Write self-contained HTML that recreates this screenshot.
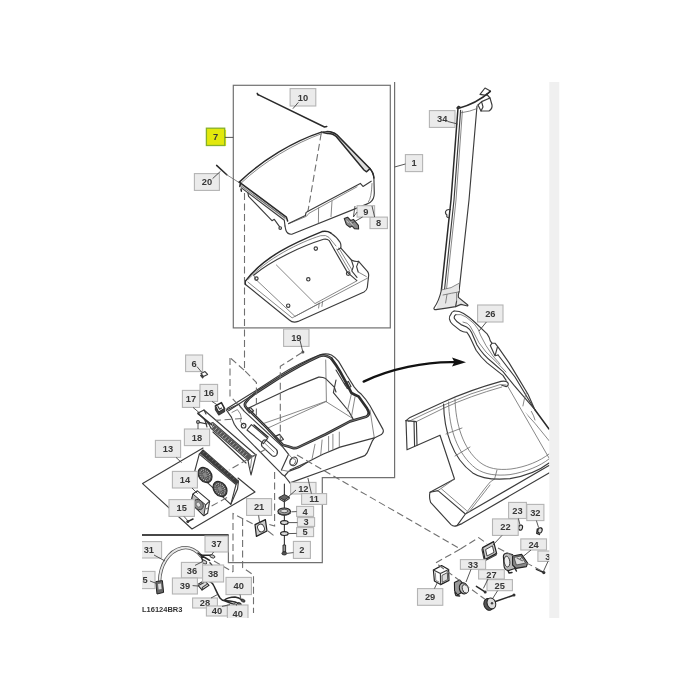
<!DOCTYPE html>
<html lang="en"><head><meta charset="utf-8"><title>Parts diagram L16124BR3</title>
<style>
html,body{margin:0;padding:0;background:#fff;}
body{width:700px;height:700px;overflow:hidden;position:relative;font-family:"Liberation Sans",sans-serif;}
svg{position:absolute;left:0;top:0;display:block}
.l{fill:none;stroke:#3c3c3c;stroke-width:1.15;stroke-linecap:round;stroke-linejoin:round}
.t{fill:none;stroke:#6a6a6a;stroke-width:.8;stroke-linecap:round;stroke-linejoin:round}
.k{fill:none;stroke:#2a2a2a;stroke-width:1.5;stroke-linecap:round;stroke-linejoin:round}
.g{fill:none;stroke:#2e2e2e;stroke-width:2.7;stroke-linecap:round;stroke-linejoin:round}
.d{fill:none;stroke:#707070;stroke-width:1.1;stroke-dasharray:7 3.5}
.b{fill:none;stroke:#707070;stroke-width:1.2}
.w{fill:#fff}
.lb{fill:#ebebeb;stroke:#b4b4b4;stroke-width:1.1}
.ly{fill:#e2e80c;stroke:#86b02a;stroke-width:1.3}
.ld{stroke:#444;stroke-width:.9;fill:none}
text{font-family:"Liberation Sans",sans-serif;font-weight:bold;font-size:9.3px;fill:#383838;text-anchor:middle}
</style></head>
<body>
<svg width="700" height="700" viewBox="0 0 700 700">
<defs><clipPath id="crop"><rect x="142" y="82" width="407.3" height="536"/></clipPath></defs>
<rect x="549.3" y="82" width="10" height="536" fill="#f0f0f0"/>
<g clip-path="url(#crop)" style="filter:blur(.35px)">
<!-- ===== frames ===== -->
<rect class="b" x="233.3" y="85.3" width="157" height="242.6"/>
<path class="b" d="M142,535 H228.4 V562.6 H322.3 V477.6 H394.6 V80"/>
<path d="M142,535 H228.400" stroke="#222" stroke-width="1.6" fill="none"/>

<!-- ===== rod 10 & pin 20 ===== -->
<path class="k" d="M257.6,94.3 L324.5,127 l2.3,-.6" stroke-width="1.250" stroke="#3a3a3a"/>
<path class="k" d="M257.2,93.4 l1,1.6" stroke-width="2.2"/>
<path class="k" d="M216.6,165.4 L226.8,174.8" stroke-width="2"/>
<path class="t" d="M226.8,174.8 L239,182.5"/>

<!-- ===== lid (7) ===== -->
<g id="lid">
<path class="w" d="M239.3,182.1 C262,160 294,141 321.4,132.1 L327,131.7 L337,135 L370,168.6 L373.8,177 L374.3,194.3 L370,203 L291.4,234.3 L287,232 L285,226 L284.3,220 L241.4,187.9 Z"/>
<path class="k" d="M239.3,182.1 C262,160 294,141 321.4,132.1" stroke-width="1.200"/>
<path class="t" d="M241,183.2 C263,162 295,143 321.8,133.6"/>
<path class="l" d="M321.4,132.1 L327,131.5 Q333,131.6 337,135 L369.6,168.2 Q373.5,172.5 373.9,178 L374.3,193 Q374.3,199.5 370,202.6 Q367,204.4 363,205.6 L291.8,234.2 Q287.3,234.6 285.8,230 L285,226"/>
<path d="M327.5,133.4 Q333,133.2 336.2,136.6 L364,170 L366.6,171.8 L370,168.6 L337,135 Q333,131.6 327,131.500Z" fill="#dcdcdc"/>
<path class="k" d="M323,132.600 L327.500,133.400 Q333,133.200 336.200,136.600 L364,170 L366.600,171.800 L370,168.600" stroke-width="1.200"/>
<path class="k" d="M327,131.500 Q333,131.600 337,135 L369.600,168.200 Q373.500,172.500 373.900,178" stroke-width="1.300"/>
<path class="l" d="M371.2,181.2 L363,186.4 L360.3,183.4 L308,211.2"/>
<path class="t" d="M357,186.8 L308.8,213.4 L306.6,216.2 L288.6,223.8"/>
<path class="t" d="M372,183.5 Q371.5,198 368.5,201.8"/>
<path class="l" d="M308,211.2 L306,212.6 L305.4,215.6 L288.6,223.6"/>
<path class="t" d="M332,201.2 L331,216.6 M318.6,208 L318.4,223"/>
<path d="M239.5,183 L286.4,217.1 L284.3,220 L241.4,187.9Z" fill="#ddd"/>
<path class="k" d="M239.3,182.1 L286.4,217.1 L287.6,221" stroke-width="1.300"/>
<path class="l" d="M241.4,187.9 L284.3,220.2 L285,226"/>
<path class="t" d="M253.6,195 L284.6,217.6"/>
<path class="t" d="M240.600,185.400 L285.400,218.600"/>
<path class="k" d="M240.4,183.5 l-.6,3 M241,189.2 l.4,2" stroke-width="1.8"/>
<path class="l" d="M247.9,192.9 L248.6,196.4 L268.6,217.1 L272,220.7 L274.3,219.3 L279.5,226.6"/>
<circle class="l" cx="280.2" cy="228" r="1.3"/>
<!-- clip 8/9 -->
<path d="M344.200,218.400 L347.600,217.200 L350.600,220.400 L353.400,219.400 L358.400,225.400 L358.600,229 L354.400,228.600 L352,226 L350,227.200 L346.400,224.600Z" fill="#8a8a8a" stroke="#2a2a2a" stroke-width="1.100" stroke-linejoin="round"/>
<path d="M349.600,221.600 l3.600,4 M346.600,220.600 l2,2.400" stroke="#ddd" stroke-width=".8" fill="none"/>
</g>

<!-- ===== tray ===== -->
<g id="tray">
<path class="w" d="M245,280.7 C264.3,255.6 294.9,242.5 323.6,231.4 L330.7,232.9 L340,242.1 L340.7,247.9 L351.4,260 L358.6,261.4 L368.6,273.6 L367.1,287.9 L365,291.4 L295,322.1 L289.3,319.3 L245,283.6Z"/>
<path class="k" d="M245,281.600 C264.300,256 294.900,242.600 322,231.600 Q327,230.600 330.700,232.900" stroke-width="1.400"/>
<path class="l" d="M330.7,232.9 Q337,237 340,242.1 Q341.4,245 340.7,247.9 L351.4,260 Q355,262 358.6,261.4 L367.6,271.6 Q369,273.6 368.6,276 L367.3,287.5 Q366.8,290.4 364,291.9 L298,321.4 Q293,323.4 289.3,320 L245.2,284.2 Q244.2,282.6 245,281"/>
<path class="t" d="M247.9,279.6 C266,259 300,242 320.7,235.7 Q326,234.6 329,237.4 L336,246"/>
<path class="l" d="M253.6,275.2 C272,259.6 304,245.4 323.6,239.3 Q327,238.6 329.3,240.7 L334.5,250"/>
<path class="t" d="M247.9,282.1 L292.1,317.9 L367.4,278.2"/>
<path class="t" d="M253.6,275.2 L256.4,280 L295,316.4 L318.8,303.6"/>
<path class="t" d="M276.4,265 L315,303.6 L357,280.8"/>
<path class="t" d="M319.3,303 L318.6,308 M322.6,301.4 L321.9,306.4"/>
<path class="l" d="M334.5,250 L347.4,272.4 L356.6,280.4"/>
<path class="t" d="M336.6,249 L349.6,271 M338.8,248 L351.8,269.6"/>
<path class="l" d="M340.7,247.9 L338,249.6 M351.4,260 L353.4,266.4 L351.8,271 L357,277.4 M358.6,261.4 L356.6,266.6 L358.2,272"/>
<path class="t" d="M358.2,272 L366.4,276.6"/>
<circle class="l" cx="256.4" cy="278.6" r="1.7"/><circle class="l" cx="315.8" cy="248.6" r="1.7"/>
<circle class="l" cx="308.3" cy="279.3" r="1.7"/><circle class="l" cx="288.2" cy="305.7" r="1.7"/>
<circle class="l" cx="348.2" cy="273.6" r="1.8"/>
<path class="k" d="M245,281 l.4,3.4" stroke-width="1.8"/>
</g>

<!-- ===== console bin ===== -->
<g id="console">
<!-- white silhouette -->
<path class="w" d="M226.4,410 L227.100,408.600 L255.700,390.700 L280,375 L300,362.600 L321.4,354.3 L331.4,355 L338.6,361.4 L347.1,375.7 L354.3,387.1 L361.4,394.3 L370,405.7 L378.6,421.4 L383.6,430.7 L381.4,434.6 L374.3,437.9 L372.1,441.4 L367.1,452.9 L362.9,456.4 L325.7,470 L290,482.9 L284,476.6 L280,472.1 L240,431.4 L234.3,424.3 L231.4,417.1Z"/>
<!-- outer shell -->
<path class="l" d="M227.100,408.600 L255.700,390.700 L280,375 Q300,362.600 320,354.800 Q326,352.800 331.4,355 Q335.6,357.4 338.6,361.4 L347.1,375.7 L354.3,387.1 Q357.6,391.6 361.4,394.3 Q366,399 370,405.7 L378.6,421.4 L383,429.4 Q384.2,432.4 381.4,434.6 L374.3,437.9"/>
<path class="l" d="M374.3,437.9 L340,447.1 L322.9,454.3 L308.6,461.4 L290,470"/>
<path class="l" d="M374.3,437.9 L372.1,441.4 L367.1,452.9 Q365.6,455.6 362.9,456.4 L325.7,470 L290,482.9"/>
<path class="t" d="M339.3,432.1 V447.1 M332.9,434.3 V449.3 M328.6,436.4 V451.4 M322.1,440 L320.7,455 M315,444.3 L312.1,458.6"/>
<path class="t" d="M370,410 L374.3,437.9"/>
<!-- interior -->
<path class="l" d="M248.600,408 L290,388.6 L318.6,377.1 Q322.6,376.8 325.7,378.6 L334.3,387.1 L336,392"/>
<path class="t" d="M325.7,360 L326.4,401.4 M262,424 L290,414.3 L325.7,401.4 L352.9,418.6"/>
<path class="t" d="M326.4,401.4 L268,428"/>
<path class="l" d="M336,380 L333.4,392.6 L348.6,411 L352.9,418.6"/>
<path class="t" d="M351.4,394 L347.4,411 M355,397 L351.6,416"/>
<path class="l" d="M336,370 L345.6,386 M344.6,383.6 L348.4,381.4 L351,386.4 L347.4,388.6Z"/>
<!-- gasket -->
<path class="g" d="M331.400,358.600 Q329,356.400 325.700,355.700 Q322.400,355 318.600,356.400 Q300,364.800 280,377.400 L255.700,393 Q249,397.600 245.600,402.600 Q244,405 246,407.400 L251,412 L266.400,427.400 L282.900,445 Q289,446.400 292.900,447.900 Q295,448.800 298.600,447.100 L325.700,434.300 L350,421.400 L366,416.800 Q368,416 368.600,414.300"/>
<path class="g" d="M331.400,358.600 Q336,364.600 340,371.400 L347.100,384.300 L351.400,392.900 Q354.600,395 358.600,396.400 L367.100,408.600 Q369.400,412.400 368.600,414.300" stroke-width="1.900"/>
<path d="M331.400,358.600 Q329,356.400 325.700,355.700 Q322.400,355 318.600,356.400 Q300,364.800 280,377.400 L255.700,393 Q249,397.600 245.600,402.600 Q244,405 246,407.400 L251,412 L266.400,427.400 L282.900,445 Q289,446.400 292.900,447.900 Q295,448.800 298.600,447.100 L325.700,434.300 L350,421.400 L366,416.800 Q368,416 368.600,414.300" fill="none" stroke="#999" stroke-width=".6"/>
<!-- front panel -->
<path class="l" d="M226.4,410 L238.6,404.3 L244.3,411.4 L282.9,447.1 L288.6,454.3 L281.4,470"/>
<path class="l" d="M226.4,410 L231.4,417.1 Q233,421 234.3,424.3 Q236.6,428.4 240,431.4 L280,472.1 Q282,474.6 284.6,476 L290,482.9"/>
<path class="l" d="M228.600,410.700 L255.700,392.900"/>
<path class="t" d="M232,412.4 L237.4,409.6 L240.4,414 Q242,418 240.4,421.6 L244,426"/>
<path class="l" d="M284.6,476 L288.6,471.4 L300,467.1 L308.6,461.4"/>
<path class="t" d="M281.4,470 L288.6,471.4 M288.6,454.3 L292,458"/>
<circle class="l" cx="243.6" cy="425.7" r="2.3"/>
<ellipse class="l" cx="293.6" cy="461.4" rx="3.6" ry="4.4" transform="rotate(30 293.6 461.4)"/>
<ellipse class="t" cx="292.8" cy="461.8" rx="2.6" ry="3.4" transform="rotate(30 292.8 461.8)"/>
<path class="l" d="M247,430 L251.4,424.6 L267.6,438.4 L263.4,443.6Z"/>
<path class="k" d="M254,425 L268,437"/>
<path class="l" d="M262.6,441.4 Q264,439 266.4,440.4 L276.6,449.6 Q278.4,452.4 276.6,455 Q274.6,457.4 272,455.6 L262,446.4 Q260.6,444 262.6,441.4Z"/>
<path class="t" d="M264.6,443 L274,452"/>
<path class="l" d="M246.4,409.4 L250.6,407.6 L253.6,411 L249.4,413Z M274.6,436.6 L279.6,434.4 L283.4,439.4 L278.6,441.6Z"/>
</g>

<!-- arrow -->
<path d="M363.6,381.6 C390,369 425,361.5 455,362.2" fill="none" stroke="#111" stroke-width="2.3" stroke-linecap="round"/>
<path d="M452,357.4 L466,362.2 L452,366.6 L454.4,362Z" fill="#111"/>

<!-- screw 19 -->
<circle cx="302.9" cy="352.1" r="1.5" fill="#555"/>

<!-- ===== vent 17 / clips ===== -->
<g id="vent">
<path class="w" d="M198,413 L204,410 L256,455 L251,475 L248,460 L211,427Z"/>
<path class="l" d="M198,413 L204,410 L256,455 L251,475 L249,466 L248,460"/>
<path class="k" d="M198,413.600 L212,425" stroke-width="1.600"/>
<path class="l" d="M198,413 L209,424 L213,422.6 L252,456.4 L256,455"/>
<path class="l" d="M213,432 L246,463"/>
<path class="l" d="M209,424 L211,428.4 L248,460.4 L252,456.4"/>
<path d="M213.4,423.4 L251.6,456.6 L248.2,459.8 L211.4,428Z" fill="#555"/>
<path d="M214.5,425.6 l-2.4,2.4 M217,427.8 l-2.4,2.4 M219.5,430 l-2.4,2.4 M222,432.2 l-2.4,2.4 M224.5,434.4 l-2.4,2.4 M227,436.600 l-2.4,2.4 M229.5,438.8 l-2.4,2.4 M232,441 l-2.4,2.4 M234.5,443.2 l-2.4,2.4 M237,445.4 l-2.4,2.4 M239.5,447.6 l-2.4,2.4 M242,449.8 l-2.4,2.4 M244.5,452 l-2.4,2.4 M247,454.2 l-2.4,2.4" stroke="#ddd" stroke-width=".7" fill="none"/>
<path class="t" d="M252,456.4 L250.4,468"/>
<path class="l" d="M204,410 L206,414"/>
<!-- screw 18 -->
<circle class="l" cx="198" cy="422" r="1.4"/>
<path class="l" d="M199.4,422.4 L207,424 M205,420.4 L207,427"/>
<!-- clip 6 -->
<path class="l" d="M201,373.4 L205,371.6 L207.6,374.4 L203.4,376.6Z M203.4,376.6 L202.6,378 L200.6,375.4Z" fill="#bbb"/>
<!-- clip 16 -->
<path class="k" d="M215.4,406 L221.4,402.6 L224.6,408.6 L218.6,412.4Z" fill="#555"/>
<path d="M215.400,406 L215.400,409.600 L218.800,415 L224.600,411.400 L224.600,408.600 L218.600,412.400Z" fill="#444"/>
<path class="l" d="M215.4,406 L215.4,409.6 L218.8,415 L218.6,412.4 M218.8,415 L224.6,411.4 L224.6,408.6 M218,406.6 l1.6,2.6 l2,-1.2"/>
</g>

<!-- ===== fan assy 13/14/15 ===== -->
<g id="fans">
<path class="l" d="M203,448 L142.6,483.6 L192,529 L255,492 L238,478"/>
<path class="w" d="M199.300,454.100 L203,450 L238.500,481.100 L237.500,489 L230.800,504.300 L194.800,470.800Z"/>
<path class="l" d="M199.300,454.100 L203,450 L238.500,481.100 L237.500,489 L230.800,504.300 L194.800,470.800Z"/>
<path class="l" d="M199.300,454.100 L236,484.600 L230.800,504.300 M236,484.600 L238.500,481.100"/>
<path d="M199.900,453.400 L203,450.200 L238.300,481.100 L236,484.200Z" fill="#3c3c3c"/>
<path d="M203,453.400 l1.600,-1.800 M206,456 l1.600,-1.800 M209,458.600 l1.600,-1.800 M212,461.200 l1.600,-1.800 M215,463.800 l1.600,-1.800 M218,466.400 l1.600,-1.800 M221,469 l1.600,-1.800 M224,471.600 l1.600,-1.800 M227,474.200 l1.600,-1.800 M230,476.800 l1.600,-1.800 M233,479.400 l1.600,-1.800" stroke="#999" stroke-width=".5" fill="none"/>
<ellipse cx="205" cy="475" rx="6.2" ry="8.2" transform="rotate(-38 205 475)" fill="#505050" stroke="#2a2a2a" stroke-width="1.2"/>
<ellipse cx="220" cy="489" rx="6.2" ry="8.2" transform="rotate(-38 220 489)" fill="#505050" stroke="#2a2a2a" stroke-width="1.2"/>
<ellipse cx="205" cy="475" rx="4.2" ry="6" transform="rotate(-38 205 475)" fill="none" stroke="#c8c8c8" stroke-width="1.1" stroke-dasharray="1 1.1"/>
<ellipse cx="220" cy="489" rx="4.2" ry="6" transform="rotate(-38 220 489)" fill="none" stroke="#c8c8c8" stroke-width="1.1" stroke-dasharray="1 1.1"/>
<ellipse cx="205" cy="475" rx="2.600" ry="3.800" transform="rotate(-38 205 475)" fill="none" stroke="#bdbdbd" stroke-width=".9" stroke-dasharray=".9 1"/>
<ellipse cx="220" cy="489" rx="2.600" ry="3.800" transform="rotate(-38 220 489)" fill="none" stroke="#bdbdbd" stroke-width=".9" stroke-dasharray=".9 1"/>
<ellipse cx="205" cy="475" rx="1.8" ry="2.6" transform="rotate(-38 205 475)" fill="#888"/>
<ellipse cx="220" cy="489" rx="1.8" ry="2.6" transform="rotate(-38 220 489)" fill="#888"/>
<!-- small fan 15 -->
<path d="M192.900,494 L197.400,490.800 L209.600,501.100 L207.600,513.300 L203.800,515.800 L190.900,503Z" fill="#fff" stroke="#333" stroke-width="1.100" stroke-linejoin="round"/>
<path d="M192.900,494 L205.700,504.900 L203.800,515.800 L190.900,503Z" fill="#bbb" stroke="#333" stroke-width="1" stroke-linejoin="round"/>
<path class="l" d="M205.700,504.900 L209.600,501.100"/>
<ellipse cx="198.400" cy="504.600" rx="4.400" ry="5.600" transform="rotate(-40 198.400 504.600)" fill="#888" stroke="#333" stroke-width=".9"/>
<ellipse cx="198.400" cy="504.600" rx="2" ry="2.600" transform="rotate(-40 198.400 504.600)" fill="#ddd" stroke="#555" stroke-width=".6"/>
<!-- screw 15 -->
<path class="k" d="M187.700,521.600 L193,519" stroke-width="1.600"/>
<circle cx="187.8" cy="521.4" r="1.5" fill="#333"/>
</g>

<!-- ===== hardware stack 12,4,3,5,2 & gasket 21 ===== -->
<g id="hw">
<path class="l" d="M284.4,484 V546"/>
<path d="M279.200,497.400 L284.400,494.600 L289.200,497 L284.200,500.200Z" fill="#666" stroke="#222" stroke-width=".9" stroke-linejoin="round"/>
<path class="l" d="M279.200,497.400 v1.400 L284.200,501.800 L289.200,498.400 v-1.400"/>
<ellipse cx="284.200" cy="511.500" rx="6.300" ry="3.500" fill="#9a9a9a" stroke="#222" stroke-width="1.100"/>
<ellipse cx="284.200" cy="511" rx="3.600" ry="1.700" fill="#ddd" stroke="#333" stroke-width=".7"/>
<path d="M278.200,513.200 Q284.200,517 290.200,513.200" class="l"/>
<ellipse cx="284.4" cy="522.6" rx="3.8" ry="1.9" fill="#ddd" stroke="#222" stroke-width="1.2"/>
<ellipse cx="284.4" cy="533.6" rx="3.8" ry="1.9" fill="#ddd" stroke="#222" stroke-width="1.2"/>
<path d="M283,545 h2.6 v7 h-2.600Z" fill="#999" stroke="#222" stroke-width=".9"/>
<ellipse cx="284.3" cy="553.4" rx="2.4" ry="1.6" fill="#555" stroke="#222" stroke-width=".8"/>
<!-- gasket 21 -->
<path d="M255,524.6 L265.400,519.6 L267,531 L256.4,536.4Z" fill="#ccc" stroke="#222" stroke-width="1.2" stroke-linejoin="round"/>
<ellipse cx="261" cy="528" rx="3.2" ry="4" transform="rotate(-25 261 528)" fill="#fff" stroke="#333" stroke-width=".9"/>
</g>

<!-- ===== wiring ===== -->
<g id="wire">
<path d="M159.6,581 C160,566 168,551 182,548 C190,546.4 197,551 201,556" fill="none" stroke="#555" stroke-width="3.4" stroke-linecap="round"/>
<path d="M159.600,581 C160,566 168,551 182,548 C190,546.4 197,551 201,556" fill="none" stroke="#e8e8e8" stroke-width="1.800" stroke-linecap="round"/>
<path d="M155.600,581.600 L162.4,580.600 L163.600,592.4 L157,594Z" fill="#666" stroke="#222" stroke-width="1"/>
<path d="M158,584 l3,-.4 l.6,5.4 l-3,.6Z" fill="#ddd"/>
<path class="k" d="M198,553 Q200,555.400 203,555.300 L210.600,555.300" stroke-width="1.800" stroke="#1c1c1c"/>
<path class="k" d="M201,555.500 Q201.400,559 203.600,561.400 M201,555.500 Q205,557.400 209.600,560.400" stroke-width="1.700" stroke="#1c1c1c"/>
<ellipse cx="212.400" cy="556.4" rx="2.600" ry="1.500" transform="rotate(20 212.400 556.400)" fill="#ccc" stroke="#333" stroke-width=".9"/>
<ellipse cx="204.400" cy="562" rx="2.600" ry="1.500" transform="rotate(30 204.400 562)" fill="#ccc" stroke="#333" stroke-width=".900"/>
<path class="l" d="M210,563 L213,566"/>
<!-- 39 connector -->
<path d="M197.4,584.6 L204.4,580.400 L209,585.400 L202,590Z" fill="#ddd" stroke="#222" stroke-width="1.100" stroke-linejoin="round"/>
<path class="l" d="M199.400,585 L204,582.400 M202,590 L202.400,587.400 L206.400,584.600"/>
<path class="k" d="M204.400,580.400 Q207,578.600 209.600,581.400" stroke-width="1.200"/>
<path class="k" d="M205,580 C210,580.400 212.600,583 214,586 C216,590 217,593.600 220,598 Q222,600.400 224,600.500" stroke-width="2" stroke="#1c1c1c"/>
<path class="k" d="M224,600.500 Q228,597 235,597 Q239,597.600 242,600 M224,600.500 Q230,600.600 235,602 L238.400,603.400 M224,600.500 Q229,602.600 234,604.400" stroke-width="1.700" stroke="#1c1c1c"/>
<ellipse cx="243" cy="600.600" rx="2.200" ry="1.300" transform="rotate(25 243 600.600)" fill="#555" stroke="#222" stroke-width=".8"/>
<ellipse cx="239.400" cy="604" rx="2" ry="1.200" transform="rotate(20 239.400 604)" fill="#555" stroke="#222" stroke-width=".8"/>
<ellipse cx="235" cy="605" rx="1.800" ry="1.100" transform="rotate(20 235 605)" fill="#555" stroke="#222" stroke-width=".8"/>
</g>

<!-- ===== pillar 34 ===== -->
<g id="pillar">
<path class="w" d="M458,108 L477,105 L469,200 L459,292 L468,305 L456,306.400 L434,309 L441,290 L451,200Z"/>
<path class="l" d="M478,105 L481,111 L489,111 Q492.600,108.600 492,105 L490,98 L486.400,94"/>
<path class="l" d="M478,105 L481.600,101.600 L490,98 M481.600,101.600 L483,107 L481,111"/>
<path class="l" d="M480,94.400 L485,88 L490.400,91 L486,95.400Z"/>
<path class="k" d="M458,108.400 Q476,104 490.400,91.400" stroke-width="1.700"/>
<path class="k" d="M458,108 L451,200 L441.400,290" stroke-width="1.500"/>
<path class="l" d="M460.600,110.400 L454,200 L444.600,289"/>
<path class="t" d="M462.400,111 L456,200 L446.600,288.600"/>
<path class="l" d="M477,106 L469,200 L459,291.600"/>
<path class="t" d="M461,112.800 Q470,111.600 477,108.600"/>
<path d="M441.400,290 Q452,288.600 459,283.400 L459,291.600 L458.400,297.400 L467.800,305 L461,304.400 L455.600,306.600 L436,309.600 Q439,301 441.400,290Z" fill="#e6e6e6"/>
<path class="l" d="M441.400,290 Q439,301 434,308 Q433.400,309.600 436,309.600 Q447,308 455.600,306.600 L456.600,301"/>
<path class="l" d="M459,291.600 Q458,295 458.400,297.400 L467.800,305 Q468.400,306 466.600,305.800 L461,304.400 L455.600,306.600"/>
<path class="t" d="M441.400,290 Q452,288.600 459,283.400 M443,295 Q452,293 459.600,291.800 M456.600,293 V301 M447,294.400 L445.600,303"/>
<path class="l" d="M450.400,209.600 Q446.600,209 445.600,211.400 Q445,214 447,215 Q445.800,217.400 449.400,217.800" />
<path class="k" d="M457,108 l1.600,-1.600 l1.600,1" stroke-width="1.300"/>
</g>

<!-- ===== fender 26 ===== -->
<g id="fender">
<!-- top trim piece -->
<path class="w" d="M451,314.100 L454.100,311 L463.600,313.400 L474.600,322 L487.100,333.800 L491.900,343.200 L498.100,347.100 L509.100,362.900 L518.600,378.600 L528,394.300 L534.900,409.700 L549,429 V442 L521,408 L506,380.100 L495,369.100 L487.100,362.900 L476.100,350.300 L470.600,338.500 L466.700,332.200 L460.400,330.600 L452.600,324.400 L449.400,318.900Z"/>
<path class="l" d="M454.100,311 Q451.400,312 451,314.100 Q449,316.400 449.400,318.900 Q450,322 452.600,324.400 L460.400,330.600 Q463.600,332.400 466.700,332.200 Q469,335 470.600,338.500 L476.100,350.300 Q481,357.600 487.100,362.900 L495,369.100 L502.900,375.400 L506,380.100"/>
<path class="l" d="M454.100,311 Q459,310.800 463.600,313.400 Q469.600,317 474.600,322 L487.100,333.800 Q489.400,337 490.300,340.900 L491.900,343.200 L495,343.200 L498.100,347.100 L509.100,362.900 L518.600,378.600 L528,394.300 L534.900,409.700"/>
<path class="k" d="M534.900,409.700 L549,429" stroke-width="1.300"/>
<path class="l" d="M490.300,345.600 L495,355.800 L497.400,347.100 M490.300,345.600 L491.900,343.200 M495,355.800 L498.100,355"/>
<path class="l" d="M498.100,355 L515,377 L527,397 L534.400,409"/>
<path class="l" d="M456,314.600 Q453.600,316 454.400,318.600 Q456,321.600 461,324.600 L466.600,327 Q470,329 471.600,332.600 L477,345 Q483,355 492,362 L503,371.600 L514.300,385.700 L534.900,409.700"/>
<path class="t" d="M456,314.600 Q461,313.400 466,317 L474,323.600 Q479,329 480.400,335 L486,345.600 L493,356 L500,364"/>
<path class="t" d="M463,322 Q468,322.600 470,326 L474,333 Q478,343 486,352 L497,362.600 L506,372"/>
<path class="t" d="M506,380.100 L521,408 L535,423.400 L549,440.600"/>
<path class="t" d="M526.300,392.600 Q524,399 522.900,406 M531.400,411.400 Q534,416 535,420"/>
<!-- main panel -->
<path class="w" d="M406,420.600 L443.600,400 L501.800,381.300 L508,382.600 L549,452 V473 L461.800,523.800 L453,526.300 L430,502 V492.300 L454.500,479 L440,435.200 L407,449.800Z"/>
<path class="l" d="M406,420.600 L407,449.800 L440,435.200 L454.500,479 L430,492.300 Q428.800,497 430.600,502.400 L451,524.600 Q453.600,527 457,525.600 L462,523.600 L549,472.900"/>
<path class="l" d="M406,420.600 L410,417.400 L424,411 L443.600,402 Q470,390 501,381.400 Q505.600,380.400 507.600,382.400 Q509.400,385 506.400,386.600 L501.800,385.300"/>
<path class="t" d="M408.400,421.600 L425,413.600 L444,405 Q470,393 500,384.600 L506,385"/>
<path class="l" d="M406,420.600 L416.400,421.600 L417,445.200 M414,421.400 L414.600,446.400"/>
<path class="t" d="M416.400,421.600 L444,408 Q470,396 501.800,387"/>
<path class="l" d="M430,492.300 L438,490.600 L465.400,514 L549,465.600 M465.400,514 L457,525.600"/>
<path class="t" d="M438,490.600 L454.500,479 M441.600,489 L466.400,510.400"/>
<path class="t" d="M465.400,514 L486,487 Q490,481 494.600,478.900 M469,512 L490,485"/>
<!-- arch -->
<path class="l" d="M443.600,404 C444,430 452,458 472.700,472.900 C482,479 494,480 510,478.600 C526,476 540,470 549,463"/>
<path class="t" d="M448.600,402 C449,428 457,454 476,468.600 C485,474.600 496,476 510,474.600 C526,472 540,466 549,459"/>
<path class="t" d="M455,399 C455.600,424 463,449 480,462.400 C488,468.600 498,470.400 511,469 C526,467 540,461 549,454"/>
<path class="t" d="M446,434 L462,428 M455,456 L470,447 M494.600,478.900 L497,470"/>
<path class="t" d="M507.600,386 L549,458"/>
</g>

<!-- ===== small parts 22..33 ===== -->
<g id="small">
<!-- 22 gasket -->
<path d="M482.600,547.600 L493.600,541.600 L496.600,553.400 L485,559.600Z" fill="#ccc" stroke="#222" stroke-width="1.200" stroke-linejoin="round"/>
<path d="M485.600,549.600 L492.400,545.800 L494,552.400 L487,556Z" fill="#fff" stroke="#333" stroke-width=".9" stroke-linejoin="round"/>
<path class="l" d="M482.600,547.600 L482,549.600 L484.400,561 L485,559.600 M484.400,561 L496,555 L496.600,553.400"/>
<!-- 24 switch -->
<path d="M503.400,557 Q503,553.600 507,553 L512.600,554.600 L515,568.400 L508.400,570.600 Q504.400,570 504,566Z" fill="#bbb" stroke="#222" stroke-width="1.100"/>
<ellipse cx="507" cy="561.600" rx="2.800" ry="5.400" transform="rotate(-8 507 561.600)" fill="#eee" stroke="#333" stroke-width=".9"/>
<path d="M512.600,556 L521.600,554.400 L527.600,563 L526.400,566.600 L516,568.400 L512.600,565Z" fill="#888" stroke="#222" stroke-width="1.100" stroke-linejoin="round"/>
<path d="M514,557.400 L521,556 L525.600,563 L516.400,565Z" fill="#ddd" stroke="#333" stroke-width=".7"/>
<path class="k" d="M508,570.400 l1,2.600 l3,-.6 M515,568.400 l1.400,2.600" stroke-width="1.200"/>
<!-- screw 30 -->
<path class="k" d="M536.400,569.300 L543.400,572.300" stroke-width="1.500"/>
<circle cx="543.800" cy="572.600" r="1.600" fill="#333"/>
<!-- 23, 32 clips -->
<ellipse cx="520.600" cy="527.600" rx="1.900" ry="2.600" transform="rotate(15 520.600 527.600)" fill="#ddd" stroke="#222" stroke-width="1.100"/>
<path class="k" d="M518.400,526 l-.4,3.600" stroke-width="1.300"/>
<ellipse cx="540" cy="530.400" rx="2.100" ry="2.700" transform="rotate(20 540 530.400)" fill="#ddd" stroke="#222" stroke-width="1.100"/>
<path class="k" d="M537.400,529 l-.6,4.400 l2.600,1" stroke-width="1.300"/>
<!-- 29 cube -->
<path d="M433.400,570 L441.600,565.600 L448.600,569.600 L449,580.400 L440.600,584.600 L434.400,581Z" fill="#fff" stroke="#222" stroke-width="1.200" stroke-linejoin="round"/>
<path class="l" d="M433.400,570 L440.400,573.600 L448.600,569.600 M440.400,573.600 L440.600,584.600"/>
<path d="M442,575.400 L447.400,572.600 L447.600,579.600 L442.200,582.400Z" fill="#ddd" stroke="#333" stroke-width=".8"/>
<path class="t" d="M435.400,573 L435.800,580.400 L439,582"/>
<!-- 33 socket -->
<path d="M454.400,582.600 L459.600,580 L463,583.600 L462.400,592 L457.600,595 L454.600,591Z" fill="#999" stroke="#222" stroke-width="1.100" stroke-linejoin="round"/>
<ellipse cx="463.600" cy="588.400" rx="4.200" ry="5.600" transform="rotate(-15 463.600 588.400)" fill="#bbb" stroke="#222" stroke-width="1.100"/>
<ellipse cx="465.400" cy="588.800" rx="3" ry="4.400" transform="rotate(-15 465.400 588.800)" fill="#eee" stroke="#333" stroke-width=".9"/>
<path class="k" d="M455,592.600 l1,3 l3.600,.4" stroke-width="1.100"/>
<!-- 27 screw -->
<path class="k" d="M476.400,586.400 L485,591.800" stroke-width="1.700"/>
<circle cx="485.200" cy="592" r="1.500" fill="#333"/>
<!-- 25 knob -->
<path class="k" d="M494,602 L513.600,595.200" stroke-width="1.600"/>
<circle cx="514" cy="595" r="1.500" fill="#333"/>
<ellipse cx="488.600" cy="604.400" rx="4.600" ry="6" transform="rotate(-20 488.600 604.400)" fill="#555" stroke="#222" stroke-width="1"/>
<ellipse cx="491.400" cy="603.400" rx="4.200" ry="5.600" transform="rotate(-20 491.400 603.400)" fill="#ddd" stroke="#222" stroke-width="1"/>
<circle cx="492" cy="603.200" r="1.200" fill="#444"/>
</g>

<!-- ===== dashed construction lines ===== -->
<path class="d" d="M244.5,193 V370.5 L256.4,382.5 V418"/>
<path class="d" d="M321.2,133.5 L308,211"/>
<path class="d" d="M230,358 V396 L243,410"/>
<path class="d" d="M231,358.5 L244.5,370.5"/>
<path class="d" d="M302,352.5 L280.3,366.4 V440"/>
<path class="d" d="M274.6,472 V526 L268,524"/>
<path class="d" d="M233,572 V513.6 L254,524.5"/>
<path class="d" d="M268,531 L275,536.5"/>
<path class="d" d="M242.6,519 V567.5 L253.5,575 V613"/>
<path class="d" d="M214,561 L233,572"/>
<path class="d" d="M297,455 L460.4,549"/>
<path class="d" d="M460.4,549 L478.6,537.6 L487,543.6"/>
<path class="d" d="M498,548 L540.7,570.4"/>
<path class="d" d="M460.4,549 L435.7,562.9 L485,599.3"/>
<path class="d" d="M242,418.500 L215,420.400" stroke-dasharray="7 3" stroke="#8a8a8a"/>
<path class="d" d="M266,449 L229,470" stroke-dasharray="10 3" stroke="#8a8a8a"/>
<path class="d" d="M227,497.600 L206,509" stroke-dasharray="9 3" stroke="#8a8a8a"/>


<text x="142" y="612.200" style="font-size:7.500px;text-anchor:start;fill:#333">L16124BR3</text>

<g id="labels">
<rect x="207.6" y="129.8" width="18.5" height="16.1" fill="#e6ec14"/>
<rect class="ly" x="206.4" y="128.2" width="18.3" height="17.3"/>
<text x="215.6" y="140.2" fill="#4d4d00">7</text>
<rect class="lb" x="290.1" y="88.6" width="25.7" height="17.4"/>
<text x="303.0" y="100.6">10</text>
<rect class="lb" x="194.4" y="173.6" width="25.0" height="16.8"/>
<text x="206.9" y="185.3">20</text>
<rect class="lb" x="405.4" y="154.6" width="17.2" height="17.0"/>
<text x="414.0" y="166.4">1</text>
<rect class="lb" x="429.4" y="110.6" width="25.6" height="16.8"/>
<text x="442.2" y="122.3">34</text>
<rect class="lb" x="370.0" y="217.1" width="17.4" height="11.5"/>
<text x="378.7" y="226.2">8</text>
<rect class="lb" x="357.1" y="205.7" width="17.5" height="11.4"/>
<text x="365.9" y="214.7">9</text>
<rect class="lb" x="283.6" y="329.0" width="25.4" height="17.4"/>
<text x="296.3" y="341.0">19</text>
<rect class="lb" x="185.6" y="355.0" width="17.0" height="16.6"/>
<text x="194.1" y="366.6">6</text>
<rect class="lb" x="182.4" y="390.4" width="17.2" height="17.0"/>
<text x="191.0" y="402.2">17</text>
<rect class="lb" x="200.0" y="384.4" width="17.6" height="17.0"/>
<text x="208.8" y="396.2">16</text>
<rect class="lb" x="184.4" y="429.0" width="25.2" height="16.6"/>
<text x="197.0" y="440.6">18</text>
<rect class="lb" x="155.4" y="440.4" width="25.2" height="17.0"/>
<text x="168.0" y="452.2">13</text>
<rect class="lb" x="172.4" y="471.4" width="25.0" height="16.6"/>
<text x="184.9" y="483.0">14</text>
<rect class="lb" x="169.0" y="499.6" width="25.4" height="16.8"/>
<text x="181.7" y="511.3">15</text>
<rect class="lb" x="246.6" y="498.6" width="25.0" height="16.8"/>
<text x="259.1" y="510.3">21</text>
<rect class="lb" x="290.6" y="482.4" width="25.4" height="11.6"/>
<text x="303.3" y="491.5">12</text>
<rect class="lb" x="301.6" y="493.6" width="25.0" height="10.8"/>
<text x="314.1" y="502.3">11</text>
<rect class="lb" x="296.6" y="506.4" width="17.0" height="10.0"/>
<text x="305.1" y="514.7">4</text>
<rect class="lb" x="297.4" y="517.6" width="17.2" height="8.8"/>
<text x="306.0" y="525.3">3</text>
<rect class="lb" x="296.6" y="527.6" width="17.0" height="9.0"/>
<text x="305.1" y="535.4">5</text>
<rect class="lb" x="293.4" y="541.4" width="17.0" height="17.0"/>
<text x="301.9" y="553.2">2</text>
<rect class="lb" x="136.0" y="541.6" width="25.6" height="16.4"/>
<text x="148.8" y="553.1">31</text>
<rect class="lb" x="205.0" y="536.0" width="23.0" height="16.0"/>
<text x="216.5" y="547.3">37</text>
<rect class="lb" x="181.4" y="562.4" width="21.2" height="15.6"/>
<text x="192.0" y="573.5">36</text>
<rect class="lb" x="202.6" y="565.0" width="21.0" height="17.0"/>
<text x="213.1" y="576.8">38</text>
<rect class="lb" x="130.0" y="571.4" width="25.0" height="17.2"/>
<text x="142.5" y="583.3">35</text>
<rect class="lb" x="172.4" y="578.0" width="25.0" height="16.0"/>
<text x="184.9" y="589.3">39</text>
<rect class="lb" x="192.6" y="598.0" width="24.8" height="10.0"/>
<text x="205.0" y="606.3">28</text>
<rect class="lb" x="226.0" y="577.4" width="25.4" height="17.2"/>
<text x="238.7" y="589.3">40</text>
<rect class="lb" x="206.4" y="606.0" width="21.0" height="10.0"/>
<text x="216.9" y="614.3">40</text>
<rect class="lb" x="227.4" y="605.0" width="20.6" height="17.0"/>
<text x="237.7" y="616.8">40</text>
<rect class="lb" x="477.6" y="305.0" width="25.4" height="17.0"/>
<text x="490.3" y="316.8">26</text>
<rect class="lb" x="508.6" y="502.4" width="17.8" height="16.1"/>
<text x="517.5" y="513.8">23</text>
<rect class="lb" x="526.8" y="504.4" width="17.1" height="16.2"/>
<text x="535.3" y="515.8">32</text>
<rect class="lb" x="492.5" y="518.9" width="25.7" height="16.5"/>
<text x="505.4" y="530.4">22</text>
<rect class="lb" x="520.8" y="538.9" width="25.7" height="11.1"/>
<text x="533.6" y="547.8">24</text>
<rect class="lb" x="537.9" y="551.0" width="25.1" height="10.4"/>
<text x="550.5" y="559.5">30</text>
<rect class="lb" x="460.4" y="559.6" width="25.2" height="9.7"/>
<text x="473.0" y="567.8">33</text>
<rect class="lb" x="478.6" y="569.7" width="25.7" height="9.3"/>
<text x="491.5" y="577.6">27</text>
<rect class="lb" x="487.0" y="579.6" width="25.4" height="11.1"/>
<text x="499.7" y="588.5">25</text>
<rect class="lb" x="417.5" y="588.6" width="25.3" height="16.7"/>
<text x="430.1" y="600.2">29</text>
</g>
<!-- ===== leader lines ===== -->
<g class="ld">
<path d="M225,137.400 H233.300"/>
<path d="M298.400,102.300 L292.900,108.700"/>
<path d="M212.600,178.600 L220.400,171.400"/>
<path d="M394.600,167 L405.400,164"/>
<path d="M447.400,121.400 L457.600,124"/>
<path d="M362.600,217 L352,223 M372,206 L374.600,217 M355,206 L353.400,217 L357.100,212"/>
<path d="M300,340.400 L302.600,351"/>
<path d="M197,366.600 L202,372.600"/>
<path d="M193,407.400 L199.600,413"/>
<path d="M212,401.400 L217.400,405"/>
<path d="M198,429 L198,423.600"/>
<path d="M176,457.400 L181.600,462.600"/>
<path d="M192,488 L197.600,493.600"/>
<path d="M184,516.400 L188,521"/>
<path d="M258.600,515.400 L259.600,522.600"/>
<path d="M296,490 L288,497"/>
<path d="M307.900,477.900 L311.400,493.600"/>
<path d="M296.600,511.600 L291.400,511.800"/>
<path d="M297.400,522.600 L288.400,522.600"/>
<path d="M296.600,533.400 L288.400,533.600"/>
<path d="M293.400,552.600 L286.800,553.400"/>
<path d="M154,555 L165,561"/>
<path d="M213.600,552 L211,555.400"/>
<path d="M195,565.400 L203,561.400"/>
<path d="M212,565.400 L209.600,562"/>
<path d="M150,581 L156.400,583.400"/>
<path d="M192.600,585.600 L198,586"/>
<path d="M211,598 L217.400,594.600"/>
<path d="M240,594.600 L240.800,598.400"/>
<path d="M222,606.400 L230,604.600"/>
<path d="M236.400,605.600 L236.800,604"/>
<path d="M486.400,322 L479,331"/>
<path d="M518.400,518.500 L520,525"/>
<path d="M536.400,520.600 L538.600,527.600"/>
<path d="M502,535.400 L493,545"/>
<path d="M531,550 L520,559"/>
<path d="M548,561.400 L543.600,571"/>
<path d="M471,569.300 L466,582"/>
<path d="M488,579 L483.400,588.400"/>
<path d="M497.600,590.700 L493,598"/>
<path d="M434.400,588.600 L437.600,582"/>
</g>

</g>
</svg>
</body></html>
